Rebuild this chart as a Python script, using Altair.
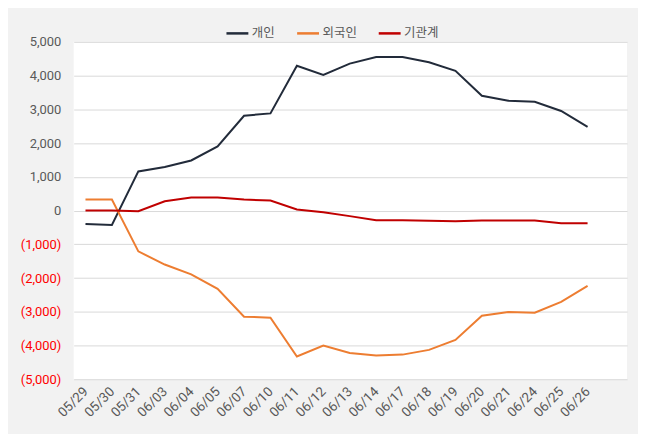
import altair as alt
import pandas as pd

dates = ["05/29", "05/30", "05/31", "06/03", "06/04", "06/05", "06/07", "06/10",
         "06/11", "06/12", "06/13", "06/14", "06/17", "06/18", "06/19", "06/20",
         "06/21", "06/24", "06/25", "06/26"]
individual = [-400, -430, 1160, 1290, 1485, 1900, 2810, 2880, 4290, 4020,
              4355, 4550, 4550, 4395, 4140, 3400, 3255, 3225, 2950, 2480]
foreign = [325, 325, -1210, -1600, -1890, -2320, -3145, -3175, -4325, -4000,
           -4220, -4295, -4270, -4130, -3835, -3120, -3010, -3030, -2705, -2235]
institution = [0, 0, -20, 275, 390, 390, 325, 295, 30, -50,
               -165, -285, -285, -300, -320, -295, -295, -295, -375, -375]

series_names = ["개인", "외국인", "기관계"]
series_colors = ["#222b3a", "#ed7d31", "#c00000"]

rows = []
for name, vals in zip(series_names, [individual, foreign, institution]):
    for d, v in zip(dates, vals):
        rows.append({"date": d, "series": name, "value": v})
df = pd.DataFrame(rows)

FONT = "Roboto, Noto Sans CJK KR, sans-serif"

chart = alt.Chart(df).mark_line(strokeWidth=2).encode(
    x=alt.X("date:O", sort=dates,
            scale=alt.Scale(type="point", padding=0.97, align=0.23),
            axis=alt.Axis(title=None, labelAngle=-45, labelAlign="right",
                          labelBaseline="middle", ticks=False, domain=False,
                          labelPadding=10, labelFontSize=13.5, labelColor="#595959",
                          labelFont=FONT, grid=False)),
    y=alt.Y("value:Q",
            scale=alt.Scale(domain=[-5000, 5000], nice=False),
            axis=alt.Axis(title=None, values=list(range(-5000, 5001, 1000)),
                          ticks=False, domain=False, gridColor="#d9d9d9",
                          labelPadding=13, labelFontSize=13, labelFont=FONT,
                          labelExpr="datum.value < 0 ? '(' + format(-datum.value, ',') + ')' : format(datum.value, ',')",
                          labelColor={"condition": {"test": "datum.value < 0", "value": "#ff0000"},
                                      "value": "#595959"})),
    color=alt.Color("series:N", sort=series_names,
                    scale=alt.Scale(domain=series_names, range=series_colors),
                    legend=alt.Legend(title=None, orient="none", direction="horizontal",
                                      legendX=152, legendY=-21,
                                      symbolType="stroke", symbolSize=484,
                                      symbolStrokeWidth=2.5, labelFontSize=12.5,
                                      labelColor="#595959", labelFont=FONT,
                                      columnPadding=16, labelOffset=2))
).properties(
    width=556, height=339,
    background="#f2f2f2",
    padding={"left": 66, "top": 33, "right": 11, "bottom": 54},
    autosize=alt.AutoSizeParams(type="none"),
).configure_view(fill="white", stroke=None)

chart.save("out.html", embed_options={"renderer": "svg", "actions": False})
